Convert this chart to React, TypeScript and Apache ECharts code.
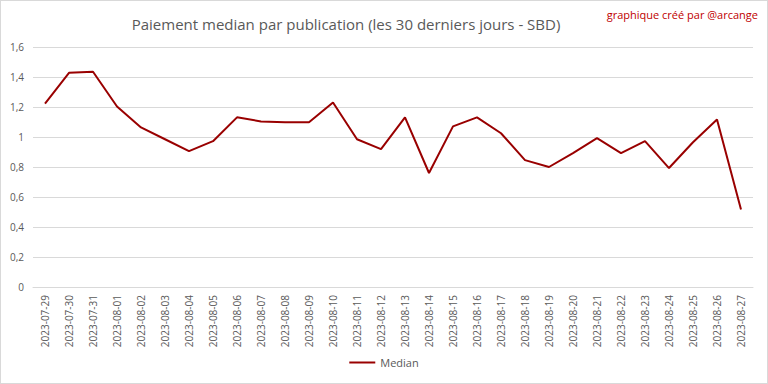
import React, { useEffect, useRef } from "react";
import * as echarts from "echarts";

const categories = [
  "2023-07-29", "2023-07-30", "2023-07-31", "2023-08-01", "2023-08-02", "2023-08-03",
  "2023-08-04", "2023-08-05", "2023-08-06", "2023-08-07", "2023-08-08", "2023-08-09",
  "2023-08-10", "2023-08-11", "2023-08-12", "2023-08-13", "2023-08-14", "2023-08-15",
  "2023-08-16", "2023-08-17", "2023-08-18", "2023-08-19", "2023-08-20", "2023-08-21",
  "2023-08-22", "2023-08-23", "2023-08-24", "2023-08-25", "2023-08-26", "2023-08-27",
];

const medianValues = [
  1.223, 1.428, 1.435, 1.203, 1.064, 0.985, 0.906, 0.972, 1.131, 1.104, 1.098, 1.098,
  1.23, 0.985, 0.919, 1.131, 0.76, 1.071, 1.131, 1.025, 0.846, 0.8, 0.893, 0.992,
  0.893, 0.972, 0.793, 0.965, 1.117, 0.516,
];

const titleText = "Paiement median par publication (les 30 derniers jours - SBD)";
const creditText = "graphique créé par @arcange";
const seriesName = "Median";

export default function App() {
  const ref = useRef<HTMLDivElement>(null);
  useEffect(() => {
    if (!ref.current) return;
    const chart = echarts.init(ref.current, undefined, { renderer: "svg" });
    const font = "Open Sans, Liberation Sans, sans-serif";
    chart.setOption({
      animation: false,
      backgroundColor: "#ffffff",
      textStyle: { fontFamily: font },
      title: {
        text: titleText,
        left: 340,
        textAlign: "center",
        top: 10,
        textStyle: { fontSize: 15, fontWeight: "normal", color: "#595959", fontFamily: font },
      },
      graphic: [
        {
          type: "text",
          right: 9,
          top: 8,
          style: { text: creditText, fill: "#c00000", font: `11px ${font}` },
        },
      ],
      legend: {
        bottom: 10,
        left: "center",
        itemWidth: 26,
        itemHeight: 2,
        icon: "rect",
        itemGap: 4,
        textStyle: { fontSize: 11, color: "#595959", fontFamily: font },
        data: [seriesName],
      },
      grid: { left: 32, right: 14, top: 46, bottom: 96, containLabel: false },
      xAxis: {
        type: "category",
        data: categories,
        boundaryGap: true,
        axisLine: { show: true, lineStyle: { color: "#d9d9d9" } },
        axisTick: { show: false },
        axisLabel: {
          rotate: 90,
          interval: 0,
          fontSize: 10,
          color: "#595959",
          margin: 8,
          fontFamily: font,
        },
      },
      yAxis: {
        type: "value",
        min: 0,
        max: 1.6,
        interval: 0.2,
        axisLine: { show: false },
        axisTick: { show: false },
        splitLine: { lineStyle: { color: "#d9d9d9" } },
        axisLabel: {
          fontSize: 10,
          color: "#595959",
          margin: 9,
          fontFamily: font,
          formatter: (v: number) => {
            const s = Number(v.toFixed(1)).toString();
            return s.replace(".", ",");
          },
        },
      },
      series: [
        {
          name: seriesName,
          type: "line",
          data: medianValues,
          showSymbol: false,
          symbol: "none",
          lineStyle: { color: "#990000", width: 2 },
          itemStyle: { color: "#990000" },
        },
      ],
    });
    return () => chart.dispose();
  }, []);
  return (
    <div
      ref={ref}
      style={{
        position: "absolute",
        left: 0,
        top: 0,
        width: 768,
        height: 384,
        boxSizing: "border-box",
        border: "1px solid #d9d9d9",
      }}
    />
  );
}
